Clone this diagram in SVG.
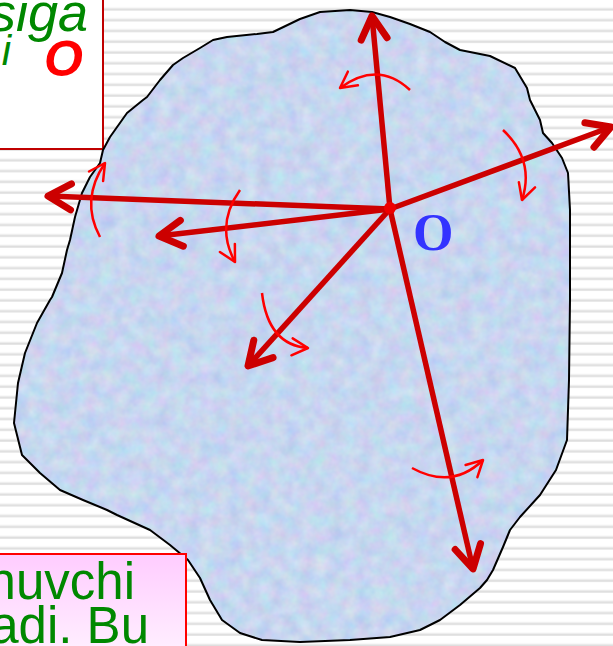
<svg xmlns="http://www.w3.org/2000/svg" width="613" height="646" viewBox="0 0 613 646">
<defs>
<pattern id="stripes" patternUnits="userSpaceOnUse" width="20" height="10.78" x="0" y="0">
<rect width="20" height="10.78" fill="#ffffff"/>
<rect y="7.6" width="20" height="1" fill="#ececec"/>
<rect y="8.6" width="20" height="2" fill="#dedede"/>
<rect y="10.6" width="20" height="0.18" fill="#ececec"/>
</pattern>
<linearGradient id="pink" x1="0" y1="0" x2="0" y2="1">
<stop offset="0" stop-color="#ffccff"/>
<stop offset="1" stop-color="#fff0ff"/>
</linearGradient>
<filter id="tex" x="0" y="0" width="100%" height="100%" color-interpolation-filters="sRGB">
<feTurbulence type="fractalNoise" baseFrequency="0.07" numOctaves="3" seed="7" result="t"/>
<feColorMatrix in="t" type="matrix" values="0.2 0 0 0 0.68  0 0.16 0 0 0.76  0 0 0.08 0 0.9  0 0 0 0 1"/>
<feComposite in2="SourceAlpha" operator="in"/>
</filter>
<marker id="headBig" markerUnits="userSpaceOnUse" markerWidth="40" markerHeight="40" viewBox="-30 -20 40 40" refX="0" refY="0" orient="auto" overflow="visible">
<path d="M -23 -13 L 0 0 L -23 13" fill="none" stroke="#cc0000" stroke-width="7" stroke-linecap="round" stroke-linejoin="round"/>
</marker>
<marker id="headSmall" markerUnits="userSpaceOnUse" markerWidth="30" markerHeight="30" viewBox="-20 -15 30 30" refX="0" refY="0" orient="auto" overflow="visible">
<path d="M -16 -8.5 L 0 0 L -16 8.5" fill="none" stroke="#ff0000" stroke-width="2.5" stroke-linecap="round" stroke-linejoin="round"/>
</marker>
<style>
.main{fill:none;stroke:#cc0000;stroke-width:5.5;marker-end:url(#headBig)}
.rot{fill:none;stroke:#ff0000;stroke-width:2.5;marker-end:url(#headSmall)}
.green{font-family:"Liberation Sans",Arial,sans-serif;fill:#008800}
</style>
</defs>
<rect id="background" width="613" height="646" fill="url(#stripes)"/>

<g id="topBox">
<rect x="-5" y="-5" width="108" height="154" fill="#ffffff" stroke="#c00000" stroke-width="2"/>
<text class="green" x="88" y="31" font-size="54" font-style="italic" text-anchor="end" fill="#009900">siga</text>
<text class="green" x="11" y="65" font-size="42" font-style="italic" text-anchor="end" fill="#009900">i</text>
<text x="44" y="76" font-family="'Liberation Sans',Arial,sans-serif" font-size="50" font-weight="bold" font-style="italic" fill="#ff0000">O</text>
</g>

<g id="body">
<path id="blobShape" d="M110,137 L127,113 L143,100 L147,97 L160,80 L173,65 L183,58 L200,48 L213,40 L227,37 L257,34 L273,32 L300,19 L320,12 L350,10 L372,12 L390,17 L410,24 L430,32 L445,42 L460,50 L490,56 L515,68 L527,88 L530,100 L540,120 L543,133 L552,143 L562,158 L568,173 L570,210 L570,300 L569,380 L567,440 L556,470 L540,495 L520,517 L510,530 L503,547 L493,570 L487,580 L480,588 L460,605 L440,620 L420,630 L390,637 L350,640 L300,642 L262,640 L240,633 L222,620 L210,600 L200,578 L188,560 L170,545 L150,530 L117,515 L107,510 L83,500 L60,490 L40,473 L22,455 L14,423 L18,383 L25,353 L37,323 L50,300 L52,297 L62,273 L67,250 L70,240 L75,217 L82,193 L90,177 L100,163 L103,150 Z" fill="#c9d6f4" filter="url(#tex)"/>
<path d="M110,137 L127,113 L143,100 L147,97 L160,80 L173,65 L183,58 L200,48 L213,40 L227,37 L257,34 L273,32 L300,19 L320,12 L350,10 L372,12 L390,17 L410,24 L430,32 L445,42 L460,50 L490,56 L515,68 L527,88 L530,100 L540,120 L543,133 L552,143 L562,158 L568,173 L570,210 L570,300 L569,380 L567,440 L556,470 L540,495 L520,517 L510,530 L503,547 L493,570 L487,580 L480,588 L460,605 L440,620 L420,630 L390,637 L350,640 L300,642 L262,640 L240,633 L222,620 L210,600 L200,578 L188,560 L170,545 L150,530 L117,515 L107,510 L83,500 L60,490 L40,473 L22,455 L14,423 L18,383 L25,353 L37,323 L50,300 L52,297 L62,273 L67,250 L70,240 L75,217 L82,193 L90,177 L100,163 L103,150 Z" fill="none" stroke="#000000" stroke-width="2" stroke-linejoin="round"/>
</g>

<g id="bottomBox">
<rect x="-5" y="554" width="191" height="100" fill="url(#pink)" stroke="#ff0000" stroke-width="2"/>
<text class="green" x="135" y="599" font-size="51" text-anchor="end">huvchi</text>
<text class="green" x="149" y="643" font-size="51" text-anchor="end">adi. Bu</text>
</g>

<g id="connectors">
<line class="main" x1="390" y1="209" x2="372" y2="16"/>
<line class="main" x1="390" y1="209" x2="611" y2="127"/>
<line class="main" x1="390" y1="209" x2="48" y2="196"/>
<line class="main" x1="390" y1="209" x2="159" y2="236"/>
<line class="main" x1="390" y1="209" x2="248" y2="366"/>
<line class="main" x1="390" y1="209" x2="473" y2="569"/>
<path class="rot" d="M410,90 Q378,60 340,88"/>
<path class="rot" d="M503,130 Q535,160 522,200"/>
<path class="rot" d="M100,237 Q80,200 105,163"/>
<path class="rot" d="M240,190 Q215,225 235,262"/>
<path class="rot" d="M262,293 Q268,345 308,348"/>
<path class="rot" d="M412,468 Q452,490 483,460"/>
</g>

<g id="origin">
<circle cx="390" cy="208" r="6" fill="#ee0000"/>
<text x="413" y="250" font-family="'Liberation Serif','Times New Roman',serif" font-size="52" font-weight="bold" fill="#3333ff">O</text>
</g>
</svg>
